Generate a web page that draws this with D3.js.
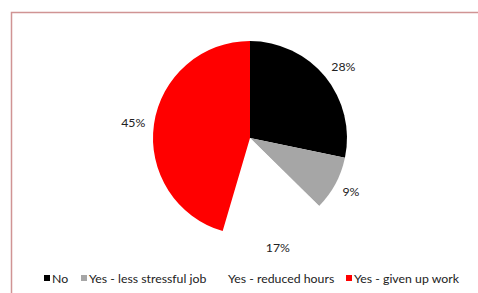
<!DOCTYPE html>
<html>
<head>
<meta charset="utf-8">
<script src="https://cdn.jsdelivr.net/npm/d3@7"></script>
<style>
  body { margin: 0; background: #fff; }
  text { font-family: Lato, "Open Sans", sans-serif; fill: #222; }
</style>
</head>
<body>
<div id="chart"></div>
<script>
var svgWidth = 478;
var svgHeight = 293;

// data
var categories = ["No", "Yes - less stressful job", "Yes - reduced hours", "Yes - given up work"];
var values = [28, 9, 17, 45];
var labels = ["28%", "9%", "17%", "45%"];
var colors = ["#000000", "#a6a6a6", "#ffffff", "#ff0000"];

var svg = d3.select("#chart")
  .append("svg")
  .attr("width", svgWidth)
  .attr("height", svgHeight);

// chart area border (only top and left visible)
svg.append("path")
  .attr("d", "M11.5,300 L11.5,12.5 L480,12.5")
  .attr("fill", "none")
  .attr("stroke", "#d09494")
  .attr("stroke-width", 1.5);

var cx = 250, cy = 138, radius = 97;

var pie = d3.pie().sort(null).value(d => d);
var arc = d3.arc().innerRadius(0).outerRadius(radius);
var labelArc = d3.arc().innerRadius(radius + 22).outerRadius(radius + 22);

var pieGroup = svg.append("g")
  .attr("transform", `translate(${cx}, ${cy})`);

var arcs = pie(values);

pieGroup.selectAll("path")
  .data(arcs)
  .enter()
  .append("path")
  .attr("d", arc)
  .attr("fill", (d, i) => colors[i]);

// manual nudges to match the reference label positions
var labelOffset = [[1, 4], [-4, -3], [-2, -6], [1, 1]];

pieGroup.selectAll("text.lbl")
  .data(arcs)
  .enter()
  .append("text")
  .attr("class", "lbl")
  .attr("x", (d, i) => labelArc.centroid(d)[0] + labelOffset[i][0])
  .attr("y", (d, i) => labelArc.centroid(d)[1] + labelOffset[i][1])
  .attr("text-anchor", "middle")
  .attr("dominant-baseline", "central")
  .attr("font-size", "12.3px")
  .text((d, i) => labels[i]);

// legend
var legendX = [44, 81, 220, 346];
var legend = svg.append("g").attr("transform", "translate(0, 278)");

var item = legend.selectAll("g")
  .data(categories)
  .enter()
  .append("g")
  .attr("transform", (d, i) => `translate(${legendX[i]}, 0)`);

item.append("rect")
  .attr("x", 0)
  .attr("y", -3)
  .attr("width", 6)
  .attr("height", 6)
  .attr("fill", (d, i) => colors[i]);

item.append("text")
  .attr("x", 8)
  .attr("y", 0)
  .attr("dominant-baseline", "central")
  .attr("font-size", "12.3px")
  .text(d => d);
</script>
</body>
</html>
